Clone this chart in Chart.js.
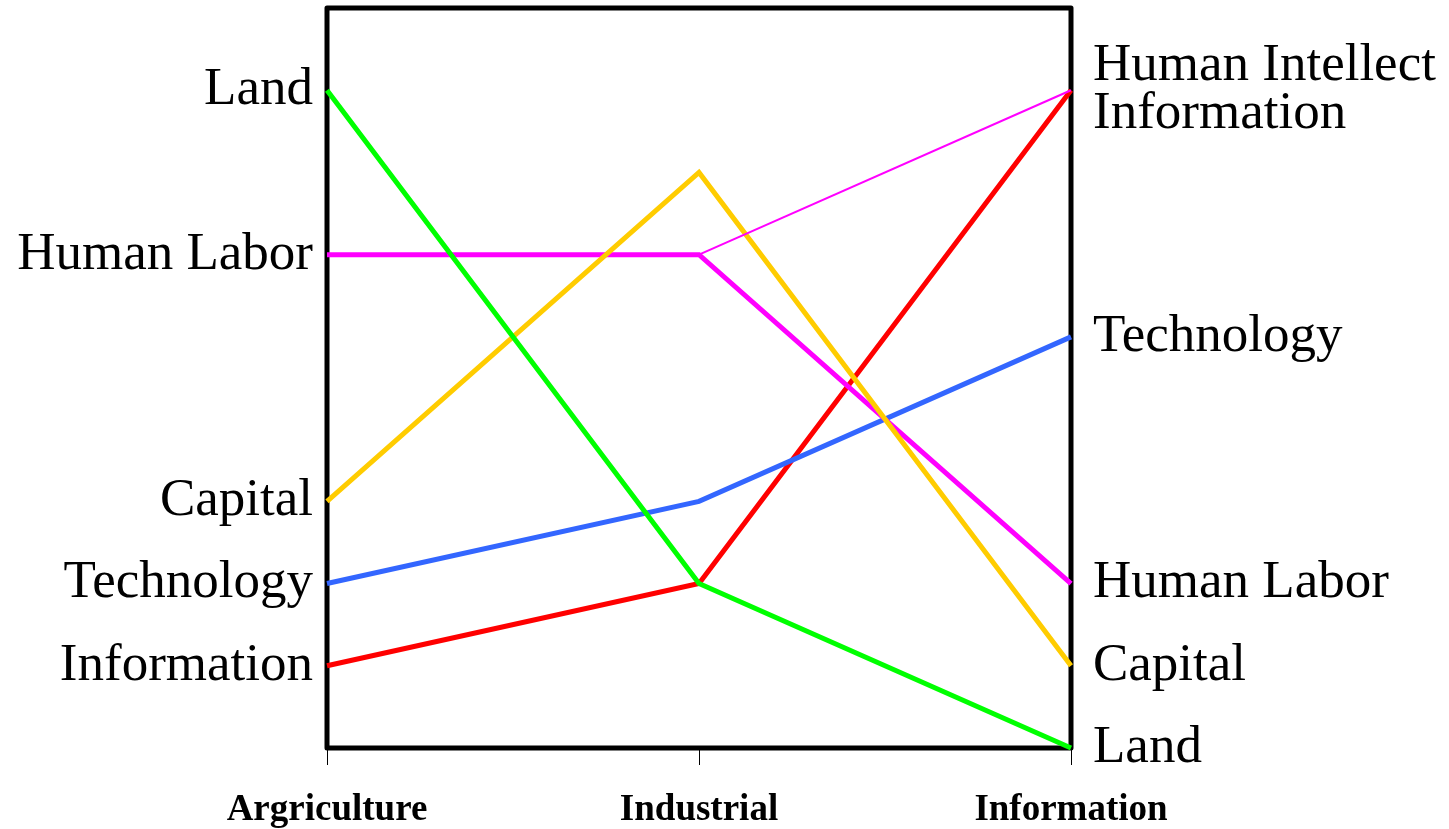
<!DOCTYPE html>
<html>
<head>
<meta charset="utf-8">
<title>Factors of production</title>
<script src="https://cdn.jsdelivr.net/npm/chart.js@4"></script>
<style>
    html, body { margin: 0; padding: 0; background: #fff; }
    canvas { display: block; }
</style>
</head>
<body>
<canvas class="js-chart" width="1449" height="829"></canvas>
<script>
// eras along the bottom (the typo is in the original)
const stages = ['Argriculture', 'Industrial', 'Information'];

// rank of each factor in each era
const land = [8, 2, 0];
const humanLabor = [6, 6, 2];
const capital = [3, 7, 1];
const technology = [2, 3, 5];
const information = [1, 2, 8];
const humanIntellect = [null, 6, 8];

const leftTickValues = [8, 6, 3, 2, 1];
const leftTickLabels = ['Land', 'Human Labor', 'Capital', 'Technology', 'Information'];
const rightTickValues = [8, 5, 2, 1, 0];
const rightTickLabels = [['Human Intellect', 'Information'], 'Technology', 'Human Labor', 'Capital', 'Land'];

const labelFont = { family: '"Liberation Serif", "Times New Roman", serif', size: 53, lineHeight: 0.9 };

// black box round the plot area
const framePlugin = {
    id: 'frame',
    beforeDatasetsDraw(chart) {
        const { ctx, chartArea } = chart;
        ctx.save();
        ctx.strokeStyle = '#000';
        ctx.lineWidth = 5;
        ctx.lineJoin = 'round';
        ctx.strokeRect(chartArea.left, chartArea.top, chartArea.right - chartArea.left, chartArea.bottom - chartArea.top);
        ctx.restore();
    },
};

const makeLine = function (label, data, color, width) {
    return {
        label: label,
        data: data,
        borderColor: color,
        backgroundColor: color,
        borderWidth: width,
        pointRadius: 0,
        fill: false,
        clip: false,
        tension: 0,
    };
};

// labels sit at fixed values, so no extra room is needed above/below the box
const fixSideAxis = function (width) {
    return (scale) => {
        scale.width = width;
        scale.paddingTop = 0;
        scale.paddingBottom = 0;
    };
};

const createChart = function () {
    const data = {
        labels: stages,
        datasets: [
            makeLine('Human Intellect', humanIntellect, '#FF00FF', 2),
            makeLine('Land', land, '#00FF00', 5),
            makeLine('Capital', capital, '#FFCC00', 5),
            makeLine('Human Labor', humanLabor, '#FF00FF', 5),
            makeLine('Technology', technology, '#3366FF', 5),
            makeLine('Information', information, '#FF0000', 5),
        ],
    };

    const config = {
        type: 'line',
        data: data,
        plugins: [framePlugin],
        options: {
            responsive: false,
            animation: false,
            layout: { padding: { top: 8, left: 0, right: 0, bottom: 0 } },
            plugins: {
                legend: { display: false },
                tooltip: { enabled: false },
            },
            scales: {
                x: {
                    type: 'category',
                    offset: false,
                    border: { display: false },
                    grid: {
                        display: true,
                        drawOnChartArea: false,
                        drawTicks: true,
                        tickLength: 17,
                        color: '#000',
                        lineWidth: 1,
                        offset: false,
                    },
                    ticks: {
                        color: '#000',
                        padding: 23,
                        maxRotation: 0,
                        autoSkip: false,
                        font: { family: '"Liberation Serif", "Times New Roman", serif', size: 37, weight: 'bold' },
                    },
                    afterFit: (scale) => {
                        scale.height = 81;
                        scale.paddingLeft = 0;
                        scale.paddingRight = 0;
                    },
                },
                y: {
                    type: 'linear',
                    position: 'left',
                    min: 0,
                    max: 9,
                    border: { display: false },
                    grid: { display: false, drawTicks: false },
                    afterBuildTicks: (scale) => {
                        scale.ticks = leftTickValues.map((v) => ({ value: v }));
                    },
                    ticks: {
                        color: '#000',
                        padding: 14,
                        font: labelFont,
                        callback: (value) => leftTickLabels[leftTickValues.indexOf(value)],
                    },
                    afterFit: fixSideAxis(327),
                },
                y2: {
                    type: 'linear',
                    position: 'right',
                    min: 0,
                    max: 9,
                    border: { display: false },
                    grid: { display: false, drawTicks: false },
                    afterBuildTicks: (scale) => {
                        scale.ticks = rightTickValues.map((v) => ({ value: v }));
                    },
                    ticks: {
                        color: '#000',
                        padding: 22,
                        font: labelFont,
                        callback: (value) => rightTickLabels[rightTickValues.indexOf(value)],
                    },
                    afterFit: fixSideAxis(1449 - 1071),
                },
            },
        },
    };

    const ctx = document.querySelector('.js-chart');
    new Chart(ctx, config);
};

const init = function () {
    createChart();
};

document.addEventListener('DOMContentLoaded', init);
</script>
</body>
</html>
